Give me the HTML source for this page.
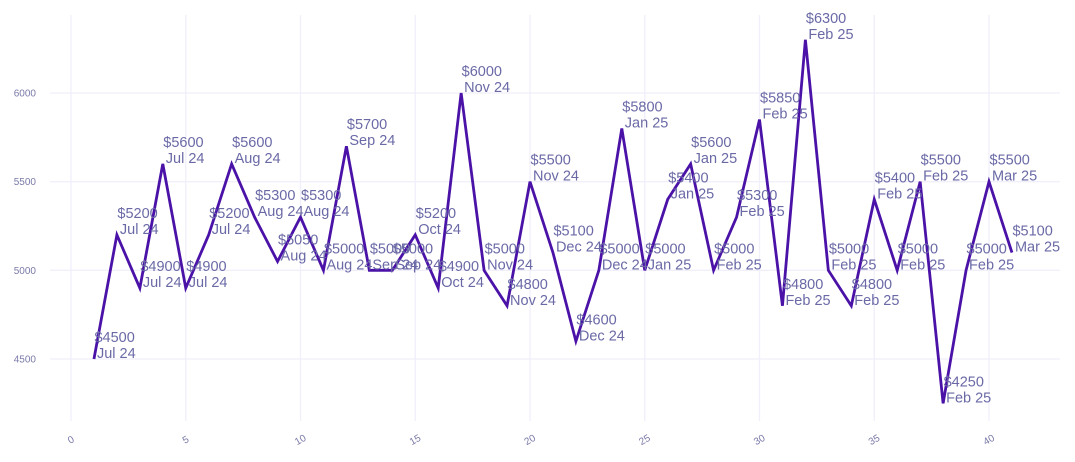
<!DOCTYPE html>
<html><head><meta charset="utf-8"><style>
body{margin:0;background:#fff}
svg{display:block;font-family:"Liberation Sans",sans-serif}
</style></head><body>
<svg id="chart" width="1075" height="462" viewBox="0 0 1075 462"></svg>
<script>
const xs=[1,2,3,4,5,6,7,8,9,10,11,12,13,14,15,16,17,18,19,20,21,22,23,24,25,26,27,28,29,30,31,32,33,34,35,36,37,38,39,40,41];
const prices=[4500,5200,4900,5600,4900,5200,5600,5300,5050,5300,5000,5700,5000,5000,5200,4900,6000,5000,4800,5500,5100,4600,5000,5800,5000,5400,5600,5000,5300,5850,4800,6300,5000,4800,5400,5000,5500,4250,5000,5500,5100];
const months=["Jul 24","Jul 24","Jul 24","Jul 24","Jul 24","Jul 24","Aug 24","Aug 24","Aug 24","Aug 24","Aug 24","Sep 24","Sep 24","Sep 24","Oct 24","Oct 24","Nov 24","Nov 24","Nov 24","Nov 24","Dec 24","Dec 24","Dec 24","Jan 25","Jan 25","Jan 25","Jan 25","Feb 25","Feb 25","Feb 25","Feb 25","Feb 25","Feb 25","Feb 25","Feb 25","Feb 25","Feb 25","Feb 25","Feb 25","Mar 25","Mar 25"];
const xTicks=[0,5,10,15,20,25,30,35,40];
const yTicks=[4500,5000,5500,6000];
const NS="http://www.w3.org/2000/svg";
const svg=document.getElementById('chart');
const X=v=>71+v*22.95;
const Y=v=>93+(6000-v)*(266/1500);
function mk(t,a,p){const e=document.createElementNS(NS,t);for(const k in a)e.setAttribute(k,a[k]);(p||svg).appendChild(e);return e;}
const grid=mk('g',{});


xTicks.forEach(t=>{
  const l=mk('line',{x1:X(t),x2:X(t),y1:15,y2:421,stroke:'#f0effa','stroke-width':1.3},grid);
  
  
  const tx=mk('text',{x:X(t),y:443,'font-size':10,fill:'#7a7aaa','text-anchor':'middle',transform:`rotate(-30 ${X(t)} 440)`});
  tx.textContent=t;
  
  
});
yTicks.forEach(t=>{
  const l=mk('line',{x1:50,x2:1060,y1:Y(t),y2:Y(t),stroke:'#f0effa','stroke-width':1.3},grid);
  
  
  const tx=mk('text',{x:36,y:Y(t)+3.5,'font-size':10,fill:'#7a7aaa','text-anchor':'end'});
  tx.textContent=t;
  
  
});
const pts=xs.map((x,i)=>X(x)+','+Y(prices[i])).join(' ');
const line=mk('polyline',{points:pts,fill:'none',stroke:'#4b12a8','stroke-width':2.8,'stroke-linejoin':'miter'});


xs.forEach((x,i)=>{
  const t=mk('text',{x:X(x)+1,y:Y(prices[i])-17,'font-size':14.5,fill:'#6a69a6'});
  
  
  const a=mk('tspan',{x:X(x)+0.5},t);a.textContent='$'+prices[i];
  const b=mk('tspan',{x:X(x)+3,dy:16},t);b.textContent=months[i];
});
</script>
</body></html>
